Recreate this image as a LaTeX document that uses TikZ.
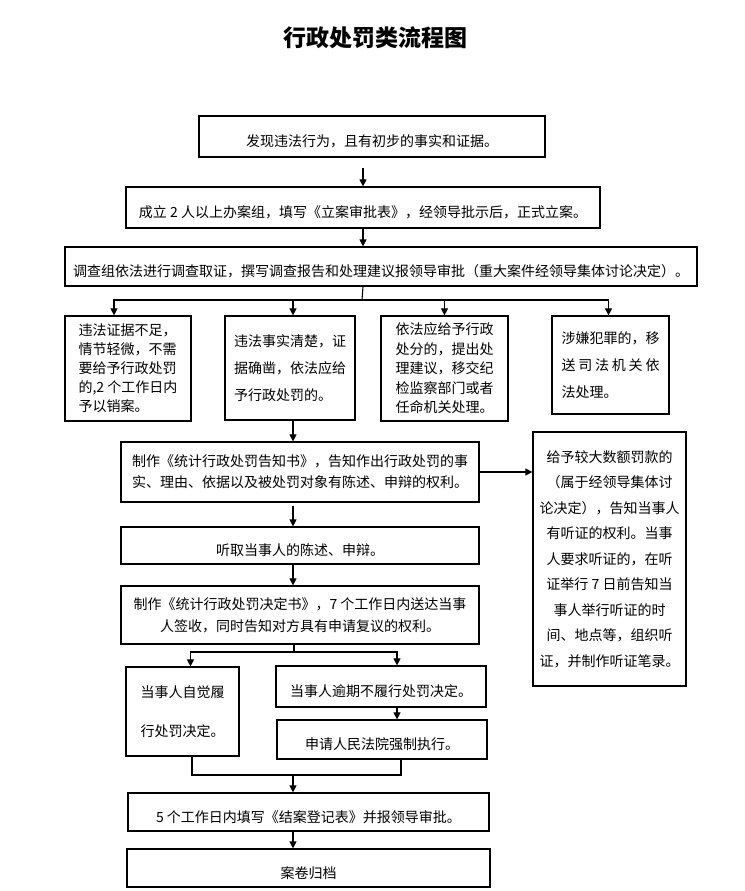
\documentclass[tikz,border=0pt]{standalone}
\usepackage{fontspec}
\setmainfont{Noto Sans CJK SC}
\usetikzlibrary{arrows.meta}
\tikzset{
  box/.style={draw, line width=1.2pt, inner sep=0pt, font=\fontsize{14}{19}\selectfont},
  onebox/.style={box, text height=22pt, text depth=2pt},
  arr/.style={-{Triangle[length=7pt,width=7pt]}, line width=1.1pt},
  link/.style={line width=1.1pt}
}
\begin{document}
\begin{tikzpicture}[x=1pt,y=-1pt]
\useasboundingbox (0,0) rectangle (744,891);
\node [font=\fontsize{23}{23}\selectfont\bfseries] (title) at (375,38) {行政处罚类流程图};
\node [onebox, minimum width=346pt, minimum height=41pt] (find) at (372,136.5) {发现违法行为，且有初步的事实和证据。};
\node [onebox, minimum width=474pt, minimum height=41pt] (open) at (363,207.5) {成立 2 人以上办案组，填写《立案审批表》，经领导批示后，正式立案。};
\node [onebox, minimum width=632pt, minimum height=39pt] (probe) at (381,266.5) {调查组依法进行调查取证，撰写调查报告和处理建议报领导审批（重大案件经领导集体讨论决定）。};
\node [box, minimum width=126pt, minimum height=105pt, align=left] (drop) at (128,368.5)
  {违法证据不足，\\情节轻微，不需\\要给予行政处罚\\的,2 个工作日内\\予以销案。};
\node [box, minimum width=130pt, minimum height=104pt, align=left, font=\fontsize{14}{27}\selectfont] (clear) at (290,368)
  {违法事实清楚，证\\据确凿，依法应给\\予行政处罚的。};
\node [box, minimum width=127pt, minimum height=105pt, align=left, font=\fontsize{14}{19.5}\selectfont] (admin) at (444.5,368.5)
  {依法应给予行政\\处分的，提出处\\理建议，移交纪\\检监察部门或者\\任命机关处理。};
\node [box, minimum width=117pt, minimum height=98pt, align=left, font=\fontsize{14}{27}\selectfont] (crime) at (610.5,365)
  {涉嫌犯罪的，移\\\makebox[7em]{送\hfill 司\hfill 法\hfill 机\hfill 关\hfill 依}\\法处理。};
\node [box, minimum width=358pt, minimum height=60pt, align=center, font=\fontsize{14}{21}\selectfont] (notice) at (300,472)
  {制作《统计行政处罚告知书》，告知作出行政处罚的事\\实、理由、依据以及被处罚对象有陈述、申辩的权利。};
\node [box, minimum width=153pt, minimum height=254pt, align=center, font=\fontsize{14}{25.5}\selectfont] (hear) at (609.5,559)
  {给予较大数额罚款的\\（属于经领导集体讨\\论决定），告知当事人\\有听证的权利。当事\\人要求听证的，在听\\证举行 7 日前告知当\\事人举行听证的时\\间、地点等，组织听\\证，并制作听证笔录。};
\node [onebox, minimum width=358pt, minimum height=37pt] (plea) at (300,545.5) {听取当事人的陈述、申辩。};
\node [box, minimum width=358pt, minimum height=58pt, align=center, font=\fontsize{14}{22}\selectfont] (decide) at (300,615)
  {制作《统计行政处罚决定书》，7 个工作日内送达当事\\人签收，同时告知对方具有申请复议的权利。};
\node [box, minimum width=113pt, minimum height=89pt, align=left, font=\fontsize{14}{39}\selectfont] (obey) at (182.5,711.5)
  {当事人自觉履\\行处罚决定。};
\node [onebox, minimum width=210pt, minimum height=41pt] (refuse) at (381,686.5) {当事人逾期不履行处罚决定。};
\node [onebox, minimum width=210pt, minimum height=39pt] (court) at (382,739.5) {申请人民法院强制执行。};
\node [onebox, minimum width=361pt, minimum height=38pt] (close) at (308.5,812) {5 个工作日内填写《结案登记表》并报领导审批。};
\node [onebox, minimum width=363pt, minimum height=38pt] (file) at (308.5,868) {案卷归档};
\coordinate (split) at (362,300);
\coordinate (fork) at (294,652);
\coordinate (merge) at (293,775);
\draw[arr] ([yshift=-10pt]find.south -| open.north) -- (open.north);
\draw[arr] (open.south) -- (open.south |- probe.north);
\draw[link] (open.south |- probe.south) -- (split);
\draw[arr] (split) -| ([xshift=-14pt]drop.north);
\draw[arr] (split) -| ([xshift=3pt]clear.north);
\draw[arr] (split) -| (admin.north);
\draw[arr] (split) -| ([xshift=-2pt]crime.north);
\draw[arr] ([xshift=3pt]clear.south) -- ([xshift=3pt]clear.south |- notice.north);
\draw[arr] (notice.east) -- (notice.east -| hear.west);
\draw[arr] ([xshift=3pt,yshift=-3pt]clear.south |- notice.south) -- ([xshift=3pt]clear.south |- plea.north);
\draw[arr] ([xshift=3pt]clear.south |- plea.south) -- ([xshift=3pt]clear.south |- decide.north);
\draw[link] (fork |- decide.south) -- (fork);
\draw[arr] (fork) -| ([xshift=8pt]obey.north);
\draw[arr] (fork) -| ([xshift=16pt]refuse.north);
\draw[arr] ([xshift=16pt]refuse.south) -- ([xshift=16pt]refuse.south |- court.north);
\draw[link] ([xshift=9.5pt]obey.south) |- (merge);
\draw[link] ([xshift=19pt]court.south) |- (merge);
\draw[arr] (merge) -- (merge |- close.north);
\draw[arr] (merge |- close.south) -- (merge |- file.north);
\end{tikzpicture}
\end{document}
